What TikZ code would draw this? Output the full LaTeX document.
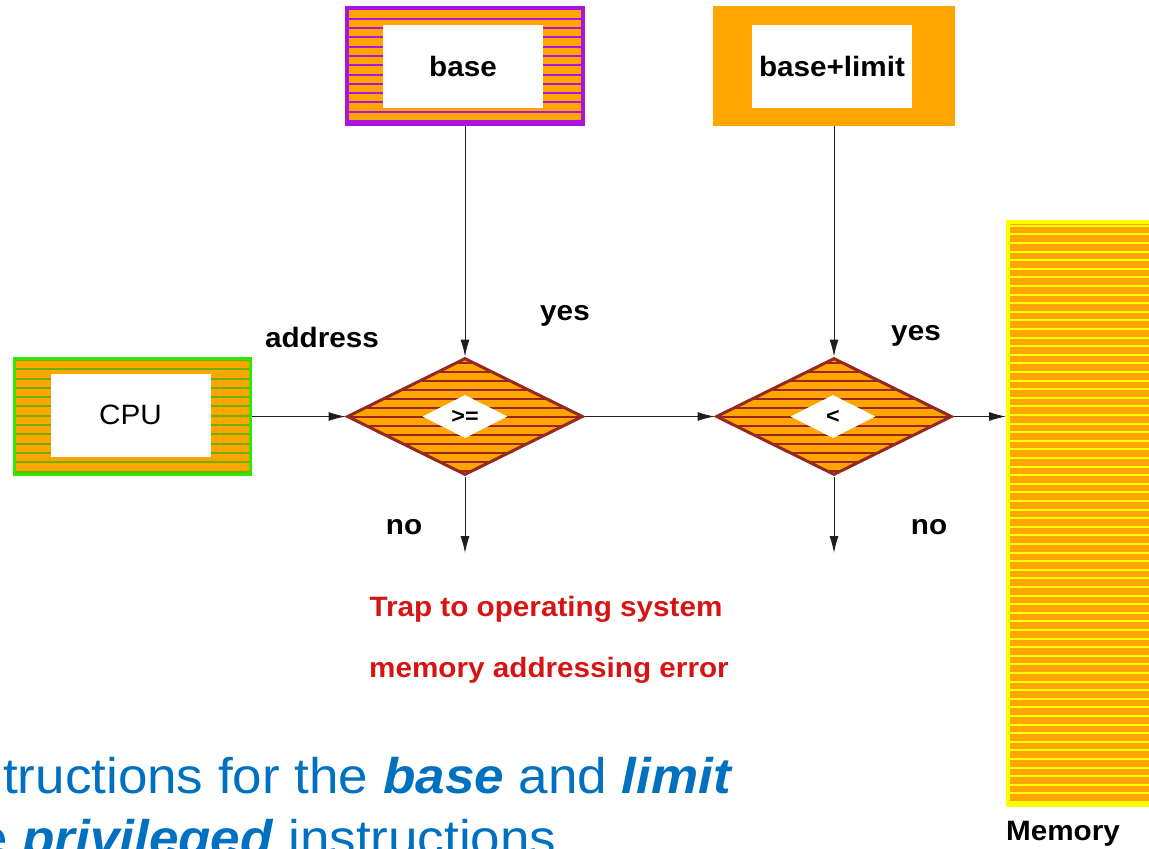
\documentclass[tikz,border=0pt]{standalone}
\usepackage{fontspec}
\setmainfont{Liberation Sans}[FakeStretch=1.06]
\usetikzlibrary{shapes.geometric,arrows.meta}

\definecolor{boxorange}{RGB}{255,165,0}
\definecolor{basepurple}{RGB}{170,20,220}
\definecolor{cpugreen}{RGB}{50,230,0}
\definecolor{dmdbrown}{RGB}{150,40,30}
\definecolor{memyellow}{RGB}{255,255,0}
\definecolor{traperr}{RGB}{215,20,20}
\definecolor{noteblue}{RGB}{0,112,192}
\definecolor{wire}{RGB}{30,30,30}

\newcommand\lblfont{\fontsize{28}{32}\selectfont\bfseries}

\begin{document}
\begin{tikzpicture}[x=1pt,y=-1pt,
  % orange fill crossed by thin horizontal lines of colour #1, spaced #2
  striped/.style 2 args={fill=boxorange, path picture={
      \foreach \k in {0,...,80}
        \draw[#1, line width=2pt]
          ([yshift=\k*#2+3pt]path picture bounding box.south west) --
          ([yshift=\k*#2+3pt]path picture bounding box.south east);}},
  outerbox/.style={rectangle, inner sep=0pt, minimum width=236pt, minimum height=116pt},
  whitebox/.style={rectangle, fill=white, inner sep=0pt, minimum width=160pt, minimum height=83pt},
  decision/.style={diamond, draw=dmdbrown, line width=3pt, inner sep=0pt,
      minimum width=236pt, minimum height=117pt, striped={dmdbrown}{9pt}},
  cmpsign/.style={diamond, fill=white, inner sep=0pt, minimum width=85pt,
      minimum height=43pt, font=\fontsize{22}{26}\selectfont\bfseries},
  tag/.style={font=\lblfont, text=black},
  arr/.style={draw=wire, line width=1pt, -{Latex[length=17pt,width=9pt]}},
  errtext/.style={font=\lblfont, text=traperr},
  note/.style={font=\fontsize{50}{58}\selectfont, text=noteblue, anchor=base west, inner sep=0pt}
]
\useasboundingbox (0,0) rectangle (1149,849);

% registers and CPU
\node[outerbox, draw=basepurple, line width=4pt, striped={basepurple}{9.3pt}] (baseouter) at (465,66) {};
\node[whitebox, tag] (baseval) at (463,66.5) {base};

\node[outerbox, fill=boxorange, minimum width=242pt, minimum height=120pt] (limouter) at (834,66) {};
\node[whitebox, tag] (limval) at (832,66.5) {base+limit};

\node[outerbox, draw=cpugreen, line width=3.5pt, striped={cpugreen!80!black!70!boxorange}{9.3pt}] (cpuouter) at (132.5,416.5) {};
\node[whitebox, font=\fontsize{28}{32}\selectfont] (cpuval) at (130.5,415) {CPU};

% comparators
\node[decision] (dmdA) at (465,416.5) {};
\node[cmpsign] (cmpA) at (465,416.5) {>=};
\node[decision] (dmdB) at (834,416.5) {};
\node[cmpsign] (cmpB) at (833,416.5) {<};

% memory column, running off the right edge
\node[rectangle, inner sep=0pt, draw=memyellow, line width=4pt, striped={memyellow}{8.6pt},
      minimum width=160pt, minimum height=583pt] (mem) at (1088,513.5) {};
\node[tag] (memlbl) at (1063,834) {Memory};

% connectors
\coordinate (noA) at (465,553);
\coordinate (noB) at (834,553);
\draw[arr] (baseouter.south) -- (dmdA.north);
\draw[arr] (limouter.south) -- (dmdB.north);
\draw[arr] (cpuouter.east) -- (dmdA.west);
\draw[arr] (dmdA.east) -- (dmdB.west);
\draw[arr] (dmdB.east) -- (dmdB.east -| mem.west);
\draw[arr] (dmdA.south) -- (noA);
\draw[arr] (dmdB.south) -- (noB);

% branch labels
\node[tag] (addrlbl) at (322,337) {address};
\node[tag] (yesA) at (565,316) {yes};
\node[tag] (yesB) at (916,336) {yes};
\node[tag] (noAlbl) at (404,527) {no};
\node[tag] (noBlbl) at (929,527) {no};

\node[errtext] (trapA) at (546,609) {Trap to operating system};
\node[errtext] (trapB) at (549,670) {memory addressing error};

% slide text below the figure
\node[note] (noteA) at (3,793) {tructions for the \textbf{\textit{base}} and \textbf{\textit{limit}}};
\node[note] (noteB) at (-22,855) {e \textbf{\textit{privileged}} instructions};
\end{tikzpicture}
\end{document}
